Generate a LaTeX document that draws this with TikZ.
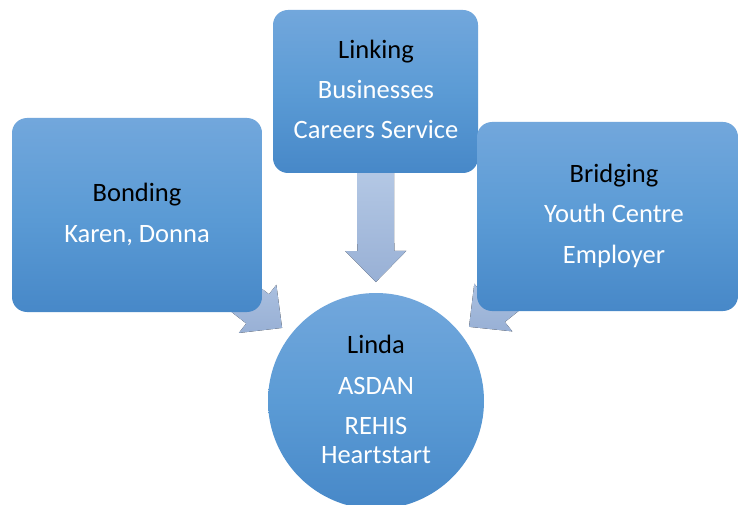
\documentclass[tikz,border=0pt]{standalone}
\usepackage{fontspec}
\setmainfont{Carlito}
\usetikzlibrary{calc,backgrounds}
\definecolor{boxtop}{HTML}{72A7DC}
\definecolor{boxmid}{HTML}{5B9BD5}
\definecolor{boxbot}{HTML}{4788C8}
\definecolor{arrtop}{HTML}{C8D9F0}
\definecolor{arrbot}{HTML}{98B0D5}
\newcommand\blockarrowpath[2]{%
  \fill[arrowfill] (#1) -- ($(#1)!43.49pt!44.53:(#2)$) -- ($(#1)!36.10pt!30.83:(#2)$)
    -- ($(#2)!18.5pt!-90:(#1)$) -- ($(#2)!18.5pt!90:(#1)$)
    -- ($(#1)!36.10pt!-30.83:(#2)$) -- ($(#1)!43.49pt!-44.53:(#2)$) -- cycle;}
\begin{document}
\begin{tikzpicture}[x=1pt,y=-1pt,
  font=\fontsize{26.5}{32}\selectfont,
  box/.style={draw=none, rounded corners=15pt, top color=boxtop, bottom color=boxbot, middle color=boxmid, inner sep=0pt, outer sep=0pt},
  hub/.style={circle, draw=none, top color=boxtop, bottom color=boxbot, middle color=boxmid, inner sep=0pt, outer sep=0pt, minimum size=216pt},
  arrowfill/.style={top color=arrtop, bottom color=arrbot, draw=none},
  title/.style={anchor=base, text=black, inner sep=0pt},
  item/.style={anchor=base, text=white, inner sep=0pt}]
\useasboundingbox (0,0) rectangle (739,505);
\clip (0,0) rectangle (739,505);
% boxes
\node[box, minimum width=250pt, minimum height=194pt] (bonding) at (137,215) {};
\node[box, minimum width=205pt, minimum height=163pt] (linking) at (375.5,91.5) {};
\node[box, minimum width=261pt, minimum height=189pt] (bridging) at (607.5,216.5) {};
\node[hub] (linda) at (376,401) {};
% arrow tips
\coordinate (tipT) at ($(linda.center)!119pt!(linking.center)$);
\coordinate (tipL) at ($(linda.center)!119pt!(bonding.center)$);
\coordinate (tipR) at ($(linda.center)!119pt!(bridging.center)$);
\begin{pgfonlayer}{background}
  \fill[white] (0,0) rectangle (739,505);
  \blockarrowpath{tipT}{linking.center}
  \blockarrowpath{tipL}{bonding.center}
  \blockarrowpath{tipR}{bridging.center}
\end{pgfonlayer}
% texts
\node[title] (bondingT) at (137,202) {Bonding};
\node[item] (bondingA) at (137,243) {Karen, Donna};
\node[title] (linkingT) at (376,59) {Linking};
\node[item] (linkingA) at (376,99) {Businesses};
\node[item] (linkingB) at (376,139) {Careers Service};
\node[title] (bridgingT) at (614,183) {Bridging};
\node[item] (bridgingA) at (614,223) {Youth Centre};
\node[item] (bridgingB) at (614,264) {Employer};
\node[title] (lindaT) at (376,353) {Linda};
\node[item] (lindaA) at (376,394) {ASDAN};
\node[item] (lindaB) at (376,434) {REHIS};
\node[item] (lindaC) at (376,463) {Heartstart};
\end{tikzpicture}
\end{document}
